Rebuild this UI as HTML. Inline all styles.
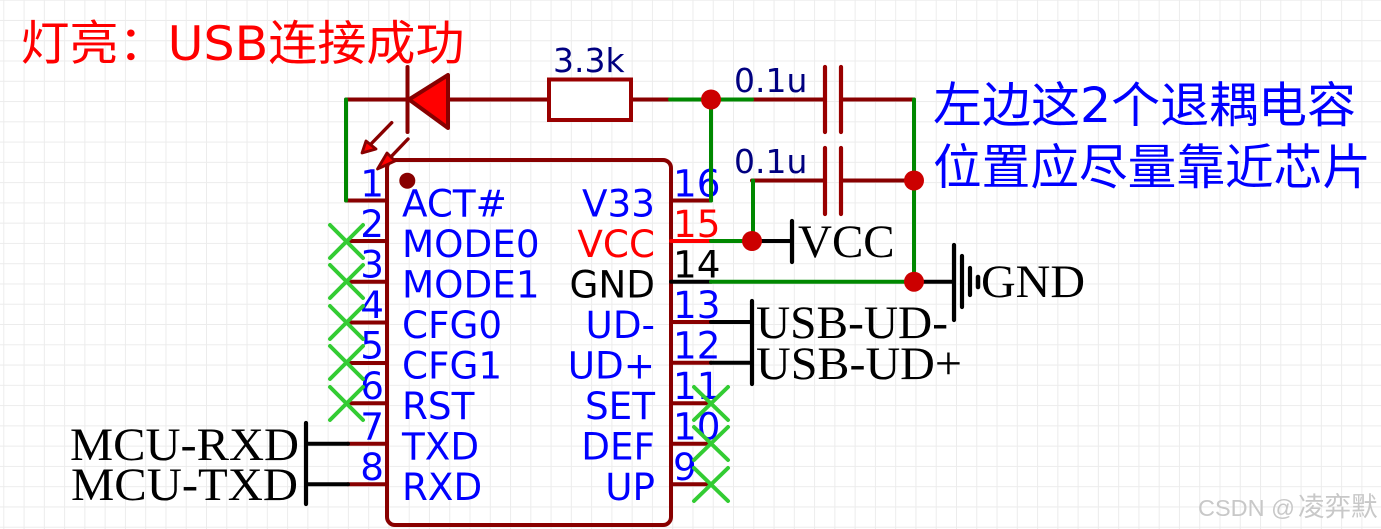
<!DOCTYPE html>
<html><head><meta charset="utf-8"><style>
html,body{margin:0;padding:0;background:#fff;width:1381px;height:529px;overflow:hidden}
svg{display:block}
.p{font-family:"DejaVu Sans","Noto Sans CJK SC",sans-serif;font-size:37.3px}
.s{font-family:"Liberation Serif",serif;font-size:47px;fill:#000}
.w{fill:none;stroke-width:4;stroke-linecap:round}
.r{stroke:#880000}.g{stroke:#008800}.k{stroke:#000}.n{stroke:#ff0000}
.x{stroke:#33cc33;stroke-width:4;stroke-linecap:round}
.b{stroke:#000;stroke-width:4.2;stroke-linecap:round}
</style></head><body>
<svg width="1381" height="529" viewBox="0 0 1381 529" xmlns="http://www.w3.org/2000/svg">
<defs>
<pattern id="grid" x="3.3" y="-0.3" width="20.27" height="20.27" patternUnits="userSpaceOnUse">
<path d="M0.5 0V20.27M0 0.5H20.27" stroke="#ececec" stroke-width="1" fill="none"/>
</pattern>
</defs>
<rect width="1381" height="529" fill="#fff"/>
<rect width="1381" height="529" fill="url(#grid)"/>

<!-- title text -->
<text x="20.5" y="60" font-family="'DejaVu Sans','Noto Sans CJK SC',sans-serif" font-size="47.5" fill="#ff0000" textLength="444" lengthAdjust="spacingAndGlyphs">灯亮：USB连接成功</text>
<text x="933" y="122" font-family="'DejaVu Sans','Noto Sans CJK SC',sans-serif" font-size="48.5" fill="#0000ff" textLength="423" lengthAdjust="spacingAndGlyphs">左边这2个退耦电容</text>
<text x="933" y="184" font-family="'DejaVu Sans','Noto Sans CJK SC',sans-serif" font-size="48.5" fill="#0000ff" textLength="438" lengthAdjust="spacingAndGlyphs">位置应尽量靠近芯片</text>

<!-- chip body -->
<rect x="387" y="160" width="284" height="365" rx="8" fill="none" stroke="#880000" stroke-width="4"/>
<circle cx="407.3" cy="180.7" r="8" fill="#880000"/>

<!-- left pins -->
<g class="w r">
<path d="M346 200.5H387M346 241H387M346 281.7H387M346 322.5H387M346 363H387M346 403.3H387M348 443.8H387M348 484.3H387"/>
</g>
<path class="w k" d="M306 443.8H348M306 484.3H348"/>
<path class="b" d="M306 423V504"/>
<!-- right pins -->
<path class="w r" d="M671 200.5H711M671 403.3H711M671 443.8H711M671 484.3H711M671 322H711M671 362.7H711"/>
<path class="w n" d="M671 241H711"/>
<path class="w k" d="M671 281.7H711M711 322H752M711 362.7H752"/>
<path class="b" d="M752 301V384"/>

<!-- top wires -->
<path class="w r" d="M346 99.5H407M448 99.5H549M631 99.5H670M752 99.5H825M841 99.5H914M752 180.5H825M841 180.5H914"/>
<path class="w g" d="M346 99.5V200.5M670 99.5H752M711 99.5V200.5M753 180.5V241M711 241H752M914 99.5V281.7M711 281.7H914"/>
<path class="w k" d="M752 241H792M914 281.7H954"/>

<!-- caps -->
<path d="M825 67V132M841 67V132M825 148V214M841 148V214" stroke="#990000" stroke-width="4.2" stroke-linecap="round" fill="none"/>
<!-- resistor -->
<rect x="549" y="79.5" width="82" height="40.5" fill="#fff" stroke="#990000" stroke-width="4"/>
<!-- diode -->
<path d="M407.5 67V132" stroke="#880000" stroke-width="4" stroke-linecap="round"/>
<path d="M409 99.5L448 75V128Z" fill="#ff0000" stroke="#880000" stroke-width="4" stroke-linejoin="round"/>
<path d="M391.7 122.7L370 145M408 139L386 162" stroke="#880000" stroke-width="3.4" stroke-linecap="round"/>
<path d="M362 153L366 141L376 149Z M377.5 169L387 153L395 161Z" fill="#ff0000" stroke="#880000" stroke-width="2.8" stroke-linejoin="round"/>

<!-- power symbols -->
<path class="b" d="M792 221V262M954 245V320M962 256V307M970 268V295"/>
<path d="M978 277V287" stroke="#000" stroke-width="4.5" stroke-linecap="round"/>

<!-- pin numbers -->
<g class="p" fill="#0000ff" text-anchor="end">
<text x="384" y="196.5">1</text><text x="384" y="237">2</text><text x="384" y="277.5">3</text><text x="384" y="318">4</text><text x="384" y="358.5">5</text><text x="384" y="399">6</text><text x="384" y="439.5">7</text><text x="384" y="480">8</text>
</g>
<g class="p" fill="#0000ff">
<text x="673" y="196.5">16</text><text x="673" y="237" fill="#ff0000">15</text><text x="673" y="277.5" fill="#000">14</text><text x="673" y="318">13</text><text x="673" y="358.5">12</text><text x="673" y="399">11</text><text x="673" y="439.5">10</text><text x="673" y="480">9</text>
</g>
<!-- pin labels -->
<g class="p" fill="#0000ff">
<text x="402" y="216.5">ACT#</text><text x="402" y="257">MODE0</text><text x="402" y="297.5">MODE1</text><text x="402" y="338">CFG0</text><text x="402" y="378.5">CFG1</text><text x="402" y="419">RST</text><text x="402" y="459.5">TXD</text><text x="402" y="500">RXD</text>
</g>
<g class="p" fill="#0000ff" text-anchor="end">
<text x="655" y="216.5">V33</text><text x="655" y="257" fill="#ff0000">VCC</text><text x="655" y="297.5" fill="#000">GND</text><text x="655" y="338">UD-</text><text x="655" y="378.5">UD+</text><text x="655" y="419">SET</text><text x="655" y="459.5">DEF</text><text x="655" y="500">UP</text>
</g>

<!-- green line over 16 -->
<path class="w g" d="M711 99.5V200.5"/>

<!-- no-connect marks -->
<g class="x">
<path d="M330 225L363 258M363 225L330 258"/>
<path d="M330 265L363 298M363 265L330 298"/>
<path d="M330 306L363 339M363 306L330 339"/>
<path d="M330 346L363 379M363 346L330 379"/>
<path d="M330 387L363 420M363 387L330 420"/>
<path d="M694 387L728 420M728 387L694 420"/>
<path d="M694 427L728 460M728 427L694 460"/>
<path d="M694 468L728 501M728 468L694 501"/>
</g>

<!-- junctions -->
<g fill="#cc0000">
<circle cx="711" cy="99.5" r="10"/><circle cx="752" cy="241" r="10"/><circle cx="914" cy="180.5" r="10"/><circle cx="914" cy="281.7" r="10"/>
</g>

<!-- values -->
<g font-family="'DejaVu Sans',sans-serif" font-size="33" fill="#000080">
<text x="553" y="72">3.3k</text>
<text x="734" y="92">0.1u</text>
<text x="734" y="173">0.1u</text>
</g>
<!-- net labels -->
<text class="s" x="798" y="257">VCC</text>
<text class="s" x="981" y="297" textLength="104" lengthAdjust="spacingAndGlyphs">GND</text>
<text class="s" x="756" y="338" textLength="192" lengthAdjust="spacingAndGlyphs">USB-UD-</text>
<text class="s" x="756" y="379" textLength="206" lengthAdjust="spacingAndGlyphs">USB-UD+</text>
<text class="s" x="70" y="460" textLength="229" lengthAdjust="spacingAndGlyphs">MCU-RXD</text>
<text class="s" x="71" y="500" textLength="227" lengthAdjust="spacingAndGlyphs">MCU-TXD</text>

<!-- watermark -->
<text x="1198" y="516" font-family="'Liberation Sans',sans-serif" font-size="23.5" fill="#c8c8c8">CSDN @</text>
<text x="1298" y="516" font-family="'Noto Sans CJK SC',sans-serif" font-size="26.5" fill="#c8c8c8">凌弈默</text>
</svg>
</body></html>
